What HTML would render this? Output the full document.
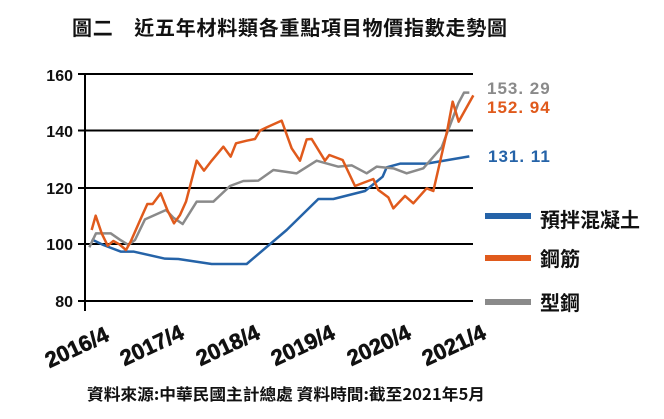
<!DOCTYPE html>
<html><head><meta charset="utf-8"><style>
body{margin:0;background:#fff;width:664px;height:419px;overflow:hidden}
svg{display:block}
text{font-family:"Liberation Sans","Noto Sans CJK TC",sans-serif;font-weight:bold}
</style></head><body>
<svg width="664" height="419" viewBox="0 0 664 419">
<text x="72" y="35" font-size="20" fill="#111" style="font-family:'Noto Sans CJK TC',sans-serif" textLength="435">圖二　近五年材料類各重點項目物價指數走勢圖</text>
<g stroke="#000" stroke-width="2">
<line x1="85" y1="74" x2="473" y2="74"/>
<line x1="85" y1="130.5" x2="473" y2="130.5"/>
<line x1="85" y1="188" x2="473" y2="188"/>
<line x1="85" y1="244" x2="473" y2="244"/>
<line x1="85" y1="301" x2="473" y2="301"/>
<line x1="85" y1="73" x2="85" y2="311"/>
<line x1="78" y1="74" x2="85" y2="74"/>
<line x1="78" y1="130.5" x2="85" y2="130.5"/>
<line x1="78" y1="188" x2="85" y2="188"/>
<line x1="78" y1="244" x2="85" y2="244"/>
<line x1="78" y1="301" x2="85" y2="301"/>
</g>
<g font-size="16" fill="#111" text-anchor="end">
<text x="73" y="81">160</text><text x="73" y="137">140</text><text x="73" y="194">120</text><text x="73" y="250">100</text><text x="73" y="307">80</text>
</g>
<g transform="translate(60,60) scale(0.33333)" fill="none" stroke-width="7.5" stroke-linejoin="round">
<polyline stroke="#2563a8" points="95,538 130,555 183,575 222,575 315,596 355,597 455,612 560,612 680,510 775,417 820,417 915,393 968,350 980,322 1020,311 1100,311 1228,289"/>
<polyline stroke="#8a8a8a" points="88,562 108,520 152,520 178,538 205,555 225,540 255,478 318,450 340,473 368,492 410,425 460,425 510,378 550,363 595,362 640,330 710,340 770,302 835,320 875,316 920,340 950,320 1000,325 1040,340 1090,325 1145,262 1195,130 1212,98 1228,98"/>
<polyline stroke="#e05a1c" points="95,510 107,467 125,520 143,557 160,543 178,553 198,570 212,545 245,470 262,432 278,432 302,400 322,450 342,490 360,465 378,425 410,302 432,332 455,302 490,260 512,290 528,250 560,242 585,237 600,212 620,202 665,182 695,265 720,302 740,238 755,237 795,302 808,285 848,300 885,378 940,357 955,390 985,412 1000,445 1035,408 1060,430 1100,385 1120,393 1162,210 1178,125 1196,185 1240,106"/>
</g>
<g font-size="17" letter-spacing="1">
<text x="487" y="94" fill="#8a8a8a">153. 29</text>
<text x="487" y="113" fill="#e05a1c">152. 94</text>
<text x="488" y="162" fill="#2563a8">131. 11</text>
</g>
<rect x="485" y="213" width="46" height="6" fill="#2563a8"/>
<rect x="485" y="255" width="46" height="6" fill="#e05a1c"/>
<rect x="485" y="299" width="46" height="6" fill="#8a8a8a"/>
<g font-size="20" fill="#111" style="font-family:'Noto Sans CJK TC',sans-serif">
<text x="540" y="227">預拌混凝土</text>
<text x="540" y="266">鋼筋</text>
<text x="540" y="310">型鋼</text>
</g>
<g font-size="22" fill="#111" text-anchor="middle" stroke="#111" stroke-width="0.6">
<text transform="translate(80,354) rotate(-25)">2016/4</text>
<text transform="translate(155,352) rotate(-25)">2017/4</text>
<text transform="translate(231,352) rotate(-25)">2018/4</text>
<text transform="translate(306,352) rotate(-25)">2019/4</text>
<text transform="translate(382,352) rotate(-25)">2020/4</text>
<text transform="translate(457,352) rotate(-25)">2021/4</text>
</g>
<text x="87" y="400" font-size="16" fill="#111" textLength="398" lengthAdjust="spacingAndGlyphs" style="font-family:'Noto Sans CJK TC',sans-serif">資料來源:中華民國主計總處 資料時間:截至2021年5月</text>
</svg>
</body></html>
